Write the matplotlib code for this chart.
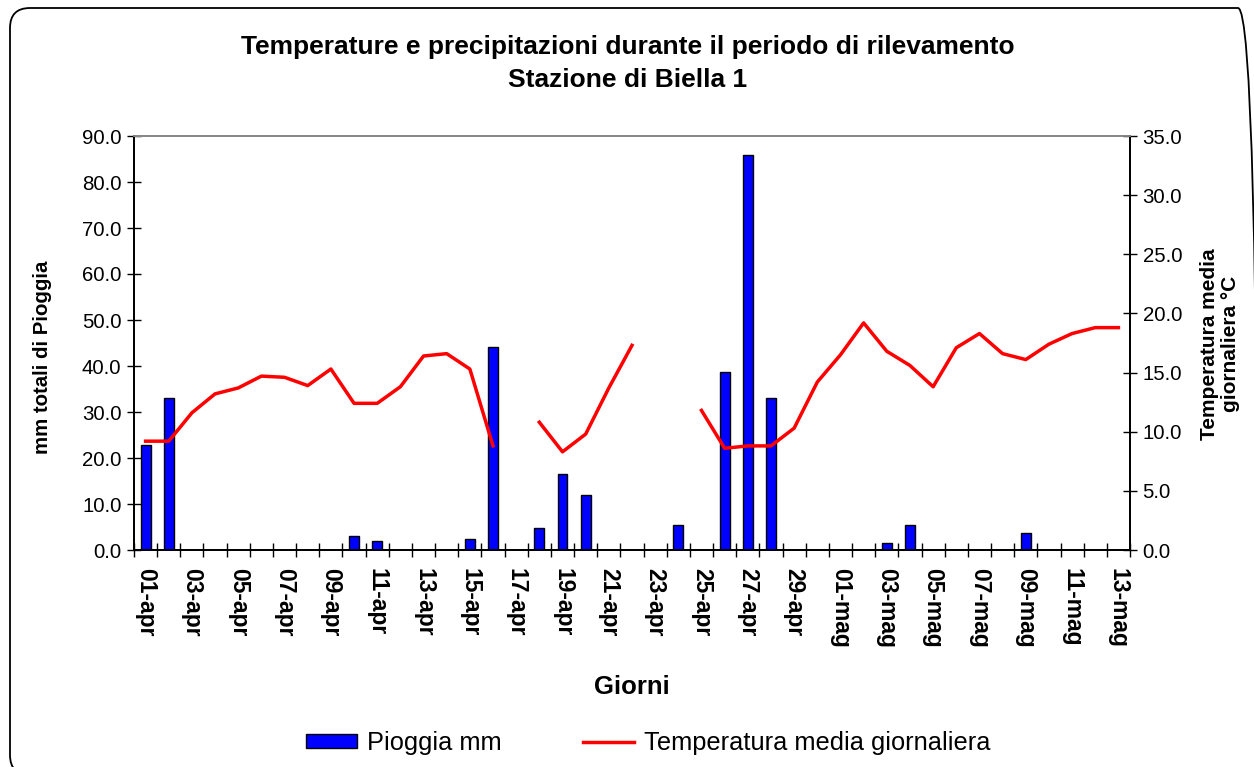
import matplotlib.pyplot as plt
from matplotlib.patches import FancyBboxPatch
import numpy as np

plt.rcParams['font.family'] = ['Liberation Sans', 'DejaVu Sans']

# Giorni: 01-apr ... 30-apr, 01-mag ... 13-mag
giorni = [f'{d:02d}-apr' for d in range(1, 31)] + [f'{d:02d}-mag' for d in range(1, 14)]

# Pioggia giornaliera (mm)
pioggia = [22.8, 33.0, 0, 0, 0, 0, 0, 0, 0, 3.0,
           2.0, 0, 0, 0, 2.4, 44.2, 0, 4.7, 16.6, 12.0,
           0, 0, 0, 5.4, 0, 38.6, 85.8, 33.0, 0, 0,
           0, 0, 1.6, 5.4, 0, 0, 0, 0, 3.8, 0,
           0, 0, 0]

# Temperatura media giornaliera (°C), None = dato mancante
temperatura = [9.2, 9.2, 11.6, 13.2, 13.7, 14.7, 14.6, 13.9, 15.3, 12.4,
               12.4, 13.8, 16.4, 16.6, 15.3, 8.8, None, 10.8, 8.3, 9.8,
               13.7, 17.3, None, None, 11.8, 8.6, 8.8, 8.8, 10.3, 14.2,
               16.5, 19.2, 16.8, 15.6, 13.8, 17.1, 18.3, 16.6, 16.1, 17.4,
               18.3, 18.8, 18.8]

x = np.arange(len(giorni))
temp = np.array([np.nan if t is None else t for t in temperatura])

W, H = 1254, 767
fig = plt.figure(figsize=(W / 100, H / 100), dpi=100)
ax = fig.add_axes([134 / W, 1 - 550 / H, 996 / W, 414 / H])
ax2 = ax.twinx()

bars = ax.bar(x, pioggia, width=0.43, color='#0000FF', edgecolor='black',
              linewidth=1, label='Pioggia mm', zorder=2)
line, = ax2.plot(x, temp, color='#FF0000', linewidth=2.5, label='Temperatura media giornaliera')

ax.set_xlim(-0.5, len(giorni) - 0.5)
ax.set_ylim(0, 90)
ax2.set_ylim(0, 35)

ax.set_yticks(np.arange(0, 91, 10))
ax.set_yticklabels([f'{v:.1f}' for v in np.arange(0, 91, 10)])
ax2.set_yticks(np.arange(0, 36, 5))
ax2.set_yticklabels([f'{v:.1f}' for v in np.arange(0, 36, 5)])

# etichette ogni due giorni, tacche tra le categorie
ax.set_xticks(x[::2])
ax.set_xticklabels(giorni[::2], rotation=270, fontsize=16.5, fontweight='bold')
ax.set_xticks(np.arange(-0.5, len(giorni)), minor=True)
ax.tick_params(axis='x', which='major', length=0, pad=13)
ax.tick_params(axis='x', which='minor', direction='inout', length=10, width=1)
ax.tick_params(axis='y', direction='inout', length=10, width=1, labelsize=14.7, pad=4)
ax2.tick_params(axis='y', direction='inout', length=10, width=1, labelsize=14.7, pad=4)

for a in (ax, ax2):
    for s in ('left', 'right', 'bottom'):
        a.spines[s].set_color('black')
        a.spines[s].set_linewidth(1.3)
    a.spines['top'].set_color('#888888')
    a.spines['top'].set_linewidth(1.3)

fig.text(43 / W, 1 - 357 / H, 'mm totali di Pioggia', rotation=90,
         ha='center', va='center', fontsize=14.7, fontweight='bold')
fig.text(1220 / W, 1 - 344 / H, 'Temperatura media\ngiornaliera °C', rotation=90,
         ha='center', va='center', fontsize=15, fontweight='bold', linespacing=1.15)
fig.text(632 / W, 1 - 687 / H, 'Giorni', ha='center', va='center',
         fontsize=18.5, fontweight='bold')

fig.text(628 / W, 1 - 47 / H, 'Temperature e precipitazioni durante il periodo di rilevamento',
         ha='center', va='center', fontsize=19, fontweight='bold')
fig.text(628 / W, 1 - 80 / H, 'Stazione di Biella 1',
         ha='center', va='center', fontsize=19, fontweight='bold')

fig.legend(handles=[bars, line], loc='center', bbox_to_anchor=(648 / W, 1 - 743 / H),
           ncol=2, frameon=False, fontsize=18.3, columnspacing=3.2, handlelength=2.0,
           handleheight=0.5, handletextpad=0.4)

# cornice arrotondata dell'area del grafico
frame = FancyBboxPatch((10 / 100, -8 / 100), 1248 / 100, 767 / 100,
                       boxstyle='round,pad=0,rounding_size=0.2',
                       transform=fig.dpi_scale_trans, facecolor='none',
                       edgecolor='black', linewidth=1.3)
fig.patches.append(frame)

fig.savefig('out.png', dpi=100)
